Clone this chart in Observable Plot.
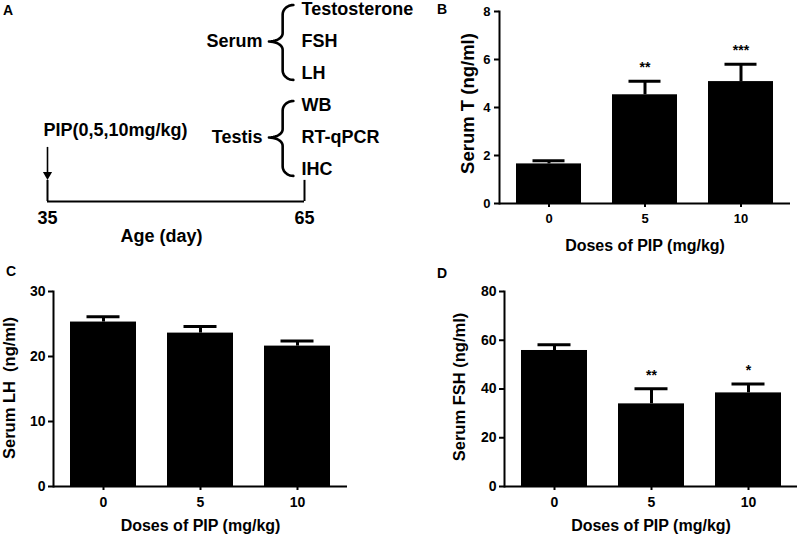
<!DOCTYPE html>
<html>
<head>
<meta charset="utf-8">
<script src="https://cdn.jsdelivr.net/npm/d3@7"></script>
<script src="https://cdn.jsdelivr.net/npm/@observablehq/plot@0.6"></script>
<style>
  body { margin: 0; background: #fff; }
  #fig { position: relative; width: 799px; height: 536px; overflow: hidden; background: #fff;
         font-family: "Liberation Sans", Arial, sans-serif; font-weight: bold; color: #000; }
  #fig svg { position: absolute; overflow: visible; }
  .letter { position: absolute; font-size: 14px; line-height: 14px; font-weight: bold; }
</style>
</head>
<body>
<div id="fig"></div>
<script>
// ---------------- data ----------------
const doses = ["0", "5", "10"];

const serumT = [1.65, 4.53, 5.08];
const serumTErr = [0.13, 0.56, 0.72];
const serumTSig = ["", "**", "***"];

const serumLH = [25.3, 23.6, 21.6];
const serumLHErr = [0.8, 1.0, 0.8];
const serumLHSig = ["", "", ""];

const serumFSH = [55.8, 33.9, 38.4];
const serumFSHErr = [2.4, 6.2, 3.7];
const serumFSHSig = ["", "**", "*"];

const tTicks = [0, 2, 4, 6, 8];
const lhTicks = [0, 10, 20, 30];
const fshTicks = [0, 20, 40, 60, 80];

const ageDays = [35, 65];
const serumAssays = ["Testosterone", "FSH", "LH"];
const testisAssays = ["WB", "RT-qPCR", "IHC"];
const groupNames = ["Serum", "Testis"];
const treatmentLabel = "PIP(0,5,10mg/kg)";
const ageLabel = "Age (day)";
const xTitle = "Doses of PIP (mg/kg)";

// ---------------- layout ----------------
const FONT = '"Liberation Sans", Arial, sans-serif';
const fig = document.getElementById("fig");

function place(node, left, top) {
  node.style.left = left + "px";
  node.style.top = top + "px";
  fig.appendChild(node);
}
function letter(t, left, top) {
  const d = document.createElement("div");
  d.className = "letter";
  d.textContent = t;
  d.style.left = left + "px";
  d.style.top = top + "px";
  fig.appendChild(d);
}

// ---------------- Panel A (schematic) ----------------
const assayRows = [
  ...serumAssays.map((t, i) => ({t, row: i})),
  ...testisAssays.map((t, i) => ({t, row: serumAssays.length + i}))
];
const groups = [
  {label: groupNames[0], first: 0, last: serumAssays.length - 1},
  {label: groupNames[1], first: serumAssays.length, last: serumAssays.length + testisAssays.length - 1}
];
const timelineRow = assayRows.length; // row below the last assay

function bracePoints(g) {
  const xEnd = 63.7, xStem = 62.45, xTip = 60.85;
  const r0 = g.first - 0.14, r1 = g.last + 0.2, rm = (g.first + g.last) / 2;
  const ry = 0.3, rym = 0.26, N = 10, pts = [];
  for (let i = 0; i <= N; i++) { const a = i / N * Math.PI / 2;
    pts.push({x: xEnd - (xEnd - xStem) * Math.sin(a), y: r0 + ry - ry * Math.cos(a)}); }
  for (let i = 0; i <= N; i++) { const a = i / N * Math.PI / 2;
    pts.push({x: xTip + (xStem - xTip) * Math.cos(a), y: rm - rym + rym * Math.sin(a)}); }
  for (let i = 0; i <= N; i++) { const a = i / N * Math.PI / 2;
    pts.push({x: xTip + (xStem - xTip) * Math.sin(a), y: rm + rym - rym * Math.cos(a)}); }
  for (let i = 0; i <= N; i++) { const a = i / N * Math.PI / 2;
    pts.push({x: xEnd - (xEnd - xStem) * Math.cos(a), y: r1 - ry + ry * Math.sin(a)}); }
  return pts;
}

const panelA = Plot.plot({
  width: 430, height: 250,
  style: {fontFamily: FONT, fontWeight: "bold", fontSize: "18px", background: "transparent", color: "black"},
  x: {domain: [ageDays[0], ageDays[1]], range: [47, 304], axis: null},
  y: {domain: [0, timelineRow], range: [9, 201], axis: null},
  marks: [
    Plot.ruleY([timelineRow], {x1: ageDays[0], x2: ageDays[1], strokeWidth: 2}),
    Plot.ruleX(ageDays, {x: d => d, y1: timelineRow - 0.66, y2: timelineRow, strokeWidth: 2}),
    Plot.ruleX([ageDays[0]], {x: d => d, y1: timelineRow - 1.69, y2: timelineRow - 0.86, strokeWidth: 1.6}),
    Plot.dot([ageDays[0]], {x: d => d, y: timelineRow - 0.84, symbol: "triangle", rotate: 180, r: 3.4, fill: "black", stroke: "none"}),
    Plot.text(ageDays, {x: d => d, y: timelineRow, text: d => String(d), dy: 17, lineAnchor: "middle", fontSize: 18}),
    Plot.text([ageLabel], {x: 48.3, y: timelineRow, dy: 35, lineAnchor: "middle", fontSize: 18}),
    Plot.text([treatmentLabel], {x: ageDays[0], y: timelineRow - 2.22, dx: -4, textAnchor: "start", lineAnchor: "middle", fontSize: 18}),
    Plot.text(assayRows, {x: ageDays[1], y: "row", text: "t", dx: -3, textAnchor: "start", lineAnchor: "middle", fontSize: 18}),
    Plot.text(groups, {x: 60.1, y: g => (g.first + g.last) / 2, text: "label", textAnchor: "end", lineAnchor: "middle", fontSize: 18}),
    ...groups.map(g => Plot.line(bracePoints(g), {x: "x", y: "y", strokeWidth: 2.6, curve: "linear"}))
  ]
});
place(panelA, 0, 0);

// ---------------- bar panels ----------------
function barPanel(o) {
  const rows = doses.map((d, i) => ({dose: d, value: o.values[i], err: o.errors[i], sig: o.sig[i]}));
  return Plot.plot({
    width: o.width, height: o.height,
    marginLeft: o.ml, marginRight: o.mr, marginTop: o.mt, marginBottom: o.mb,
    style: {fontFamily: FONT, fontWeight: "bold", fontSize: o.tickFont + "px", background: "transparent", color: "black"},
    x: {domain: doses, paddingInner: 0.32, paddingOuter: 0.17, axis: null},
    y: {domain: o.yDomain, axis: null},
    marks: [
      Plot.barY(rows, {x: "dose", y: "value", fill: "black"}),
      Plot.ruleX(rows, {x: "dose", y1: "value", y2: d => d.value + d.err, strokeWidth: 3}),
      Plot.tickY(rows, {x: "dose", y: d => d.value + d.err, strokeWidth: 3, insetLeft: 16.5, insetRight: 16.5}),
      Plot.text(rows, {x: "dose", y: d => d.value + d.err, text: "sig", lineAnchor: "bottom", dy: -9, fontSize: 14}),
      Plot.axisY({ticks: o.yTicks, tickSize: 5, tickPadding: o.tickPad, strokeWidth: 2, label: null, fontSize: o.tickFont, fontWeight: "bold"}),
      Plot.axisX({tickSize: 4, tickPadding: o.xTickPad, strokeWidth: 2, label: null, fontSize: o.tickFont, fontWeight: "bold"}),
      Plot.frame({anchor: "left", strokeWidth: 2}),
      Plot.ruleY([0], {strokeWidth: 2}),
      Plot.text([o.yLabel], {frameAnchor: "left", rotate: -90, dx: o.yLabelDx, dy: o.yLabelDy, textAnchor: "middle", lineAnchor: "middle", fontSize: o.yLabelFont}),
      Plot.text([xTitle], {frameAnchor: "bottom", dy: o.xLabelDy, textAnchor: "middle", lineAnchor: "middle", fontSize: 16})
    ]
  });
}

const panelB = barPanel({
  values: serumT, errors: serumTErr, sig: serumTSig, yDomain: [0, 8], yTicks: tTicks,
  yLabel: "Serum T (ng/ml)", width: 399, height: 260, ml: 99, mr: 9, mt: 11, mb: 57,
  tickFont: 13, tickPad: 4, xTickPad: 6, yLabelDx: -31, yLabelDy: -4, yLabelFont: 18.5, xLabelDy: 42
});
place(panelB, 400, 0);

const panelC = barPanel({
  values: serumLH, errors: serumLHErr, sig: serumLHSig, yDomain: [0, 30], yTicks: lhTicks,
  yLabel: "Serum LH  (ng/ml)", width: 400, height: 286, ml: 53, mr: 53, mt: 41, mb: 50,
  tickFont: 14, tickPad: 3, xTickPad: 6.5, yLabelDx: -44, yLabelDy: -1, yLabelFont: 16.5, xLabelDy: 39
});
place(panelC, 0, 250);

const panelD = barPanel({
  values: serumFSH, errors: serumFSHErr, sig: serumFSHSig, yDomain: [0, 80], yTicks: fshTicks,
  yLabel: "Serum FSH (ng/ml)", width: 399, height: 286, ml: 104, mr: 2, mt: 41, mb: 50,
  tickFont: 14, tickPad: 3, xTickPad: 7, yLabelDx: -44.5, yLabelDy: -2, yLabelFont: 16.5, xLabelDy: 39
});
place(panelD, 400, 250);

letter("A", 3, 3);
letter("B", 437, 2);
letter("C", 6, 264);
letter("D", 437, 266);
</script>
</body>
</html>
